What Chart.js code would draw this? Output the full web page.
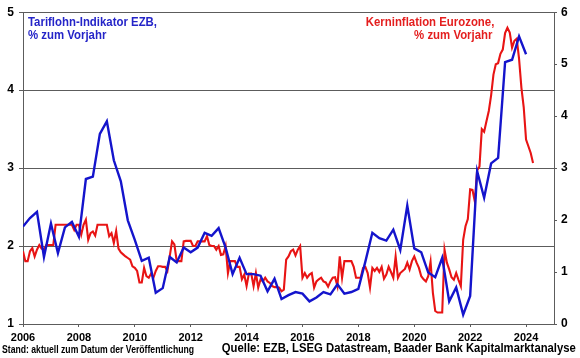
<!DOCTYPE html>
<html>
<head>
<meta charset="utf-8">
<script src="https://cdn.jsdelivr.net/npm/chart.js@4.4.1/dist/chart.umd.min.js"></script>
<style>
  html, body { margin: 0; padding: 0; background: #ffffff; }
  #wrap { position: relative; width: 580px; height: 358px; overflow: hidden; }
  #c { position: absolute; left: 0; top: 0; }
  .txt { position: absolute; white-space: nowrap; font-family: 'Liberation Sans', Arial, sans-serif; font-weight: bold; display: inline-block; }
  .lft { transform-origin: left top; }
  .rgt { transform-origin: right top; }
</style>
</head>
<body>
<div id="wrap">
  <canvas id="c" width="580" height="358"></canvas>
  <div id="l1" class="txt lft" style="left:28px; top:16px; font-size:12px; line-height:12px; color:#2424c8;">Tariflohn-Indikator EZB,</div>
  <div id="l2" class="txt lft" style="left:28px; top:28.5px; font-size:12px; line-height:12px; color:#2424c8;">% zum Vorjahr</div>
  <div id="r1" class="txt rgt" style="right:85.5px; top:16px; font-size:12px; line-height:12px; color:#e41e1e;">Kerninflation Eurozone,</div>
  <div id="r2" class="txt rgt" style="right:88px; top:28.5px; font-size:12px; line-height:12px; color:#e41e1e;">% zum Vorjahr</div>
  <div id="f1" class="txt lft" style="left:2px; top:344.5px; font-size:10px; line-height:10px; color:#000;">Stand: aktuell zum Datum der Veröffentlichung</div>
  <div id="f2" class="txt rgt" style="right:4px; top:342px; font-size:12.5px; line-height:13px; color:#000;">Quelle: EZB, LSEG Datastream, Baader Bank Kapitalmarktanalyse</div>
</div>
<script>
// ---- Data ----
const wageStartYear = 2006;          // first quarter: Q1 2006
const wageValues = [                  // Tariflohn-Indikator EZB, % y/y (quarterly)
  2.25, 2.36, 2.44, 1.86,
  2.29, 1.91, 2.24, 2.31,
  2.12, 2.86, 2.89, 3.44,
  3.60, 3.10, 2.83, 2.33,
  2.08, 1.81, 1.85, 1.40,
  1.46, 1.86, 1.79, 1.98,
  1.92, 1.98, 2.17, 2.13,
  2.23, 1.98, 1.64, 1.85,
  1.64, 1.64, 1.62, 1.42,
  1.58, 1.32, 1.37, 1.41,
  1.39, 1.29, 1.34, 1.41,
  1.38, 1.51, 1.39, 1.41,
  1.45, 1.80, 2.17, 2.10,
  2.07, 2.21, 1.95, 2.52,
  1.97, 1.92, 1.66, 1.60,
  1.85, 1.29, 1.47, 1.12,
  1.36, 2.96, 2.62, 3.06,
  3.13, 4.36, 4.39, 4.69,
  4.46
];
const coreStartYear = 2006;           // first month: Jan 2006
const coreValues = [                  // Kerninflation Eurozone, % y/y (monthly)
  1.40, 1.21, 1.21, 1.40, 1.46, 1.30, 1.43, 1.52, 1.45, 1.43, 1.52, 1.52,
  1.52, 1.52, 1.91, 1.91, 1.91, 1.91, 1.91, 1.91, 1.91, 1.91, 1.81, 1.91,
  1.91, 1.72, 1.91, 2.01, 1.62, 1.75, 1.78, 1.70, 1.91, 1.91, 1.91, 1.91,
  1.91, 1.69, 1.75, 1.56, 1.79, 1.45, 1.38, 1.34, 1.30, 1.27, 1.24, 1.11,
  1.08, 1.02, 0.80, 0.80, 1.08, 0.92, 0.89, 0.97, 0.89, 1.02, 1.11, 1.11,
  1.10, 1.10, 1.02, 1.30, 1.59, 1.53, 1.21, 1.21, 1.21, 1.59, 1.60, 1.60,
  1.60, 1.50, 1.50, 1.59, 1.59, 1.59, 1.59, 1.69, 1.52, 1.50, 1.50, 1.43,
  1.50, 1.33, 1.34, 1.50, 0.98, 1.21, 1.21, 1.21, 1.10, 1.10, 0.86, 0.95,
  0.73, 0.97, 0.97, 0.73, 0.98, 0.70, 0.86, 0.82, 0.89, 0.82, 0.79, 0.73,
  0.71, 0.71, 0.70, 0.63, 0.66, 1.24, 1.30, 1.40, 1.43, 1.32, 1.43, 1.50,
  0.89, 0.98, 0.89, 0.95, 0.98, 0.70, 0.82, 0.86, 0.89, 0.82, 0.80, 0.72,
  0.82, 0.89, 0.90, 0.73, 1.30, 0.89, 1.21, 1.21, 1.21, 1.21, 1.10, 0.89,
  0.89, 0.89, 1.08, 1.10, 0.98, 0.70, 1.08, 1.02, 1.08, 1.00, 1.10, 0.87,
  0.95, 1.10, 1.00, 0.89, 1.30, 0.89, 0.98, 1.02, 1.06, 1.18, 1.05, 1.21,
  1.30, 1.18, 1.08, 0.92, 0.86, 0.82, 0.92, 1.20, 0.60, 0.25, 0.22, 0.22,
  0.22, 1.43, 1.18, 1.05, 0.90, 0.85, 0.98, 0.85, 0.73, 1.62, 1.88, 2.02,
  2.59, 2.58, 2.36, 2.96, 3.03, 3.75, 3.70, 3.90, 4.10, 4.40, 4.80, 5.00,
  5.02, 5.20, 5.28, 5.60, 5.70, 5.61, 5.32, 5.45, 5.49, 5.10, 4.55, 4.17,
  3.55, 3.42, 3.29, 3.10
];
const xTickYears = [2006, 2008, 2010, 2012, 2014, 2016, 2018, 2020, 2022, 2024];
const leftTicks = [1, 2, 3, 4, 5];
const rightTicks = [0, 1, 2, 3, 4, 5, 6];
const wageLabel = 'Tariflohn-Indikator EZB, % zum Vorjahr';
const coreLabel = 'Kerninflation Eurozone, % zum Vorjahr';

// ---- Build chart ----
const wagePoints = wageValues.map((v, i) => ({ x: wageStartYear + i / 4, y: v }));
const corePoints = coreValues.map((v, i) => ({ x: coreStartYear + i / 12, y: v }));

Chart.defaults.font.family = "'Liberation Sans', Arial, sans-serif";
Chart.defaults.font.weight = 'bold';
Chart.defaults.color = '#000000';

const gridCol = '#5c5c5c';

new Chart(document.getElementById('c'), {
  type: 'line',
  data: {
    datasets: [
      { label: wageLabel, data: wagePoints, yAxisID: 'y', borderColor: '#1414cc', borderWidth: 2.4, pointRadius: 0, tension: 0, order: 1 },
      { label: coreLabel, data: corePoints, yAxisID: 'y2', borderColor: '#e81414', borderWidth: 2.1, pointRadius: 0, tension: 0, order: 2 }
    ]
  },
  options: {
    responsive: false,
    animation: false,
    events: [],
    layout: { padding: { top: 11, left: 0, right: 0, bottom: 0 } },
    plugins: { legend: { display: false }, tooltip: { enabled: false } },
    scales: {
      x: {
        type: 'linear', min: 2006, max: 2025,
        afterBuildTicks: (s) => { s.ticks = xTickYears.map(v => ({ value: v })); },
        afterFit: (s) => { s.height = 34; },
        ticks: { font: { size: 11, weight: 'bold' }, padding: 4, maxRotation: 0, autoSkip: false, callback: (v) => String(v) },
        grid: { drawOnChartArea: false, drawTicks: true, tickLength: 3, color: gridCol },
        border: { display: true, color: gridCol, width: 1 }
      },
      y: {
        position: 'left', min: 1, max: 5,
        afterBuildTicks: (s) => { s.ticks = leftTicks.map(v => ({ value: v })); },
        afterFit: (s) => { s.width = 23; },
        ticks: { font: { size: 12, weight: 'bold' }, padding: 5, callback: (v) => String(v) },
        grid: { color: gridCol, lineWidth: 1, tickLength: 4 },
        border: { display: true, color: gridCol, width: 1 }
      },
      y2: {
        position: 'right', min: 0, max: 6,
        afterBuildTicks: (s) => { s.ticks = rightTicks.map(v => ({ value: v })); },
        afterFit: (s) => { s.width = 26; },
        ticks: { font: { size: 12, weight: 'bold' }, padding: 4, callback: (v) => String(v) },
        grid: { drawOnChartArea: false, color: gridCol, tickLength: 3 },
        border: { display: true, color: gridCol, width: 1 }
      }
    }
  }
});

// ---- fit overlay texts to measured widths ----
function natW(el) { return el.getBoundingClientRect().width; }
const legScale = 129 / natW(document.getElementById('l1'));
['l1', 'l2', 'r1', 'r2'].forEach(id => {
  document.getElementById(id).style.transform = 'scaleX(' + legScale + ')';
});
const f1 = document.getElementById('f1');
f1.style.transform = 'scaleX(' + (192 / natW(f1)) + ')';
const f2 = document.getElementById('f2');
f2.style.transform = 'scaleX(' + (354 / natW(f2)) + ')';
</script>
</body>
</html>
